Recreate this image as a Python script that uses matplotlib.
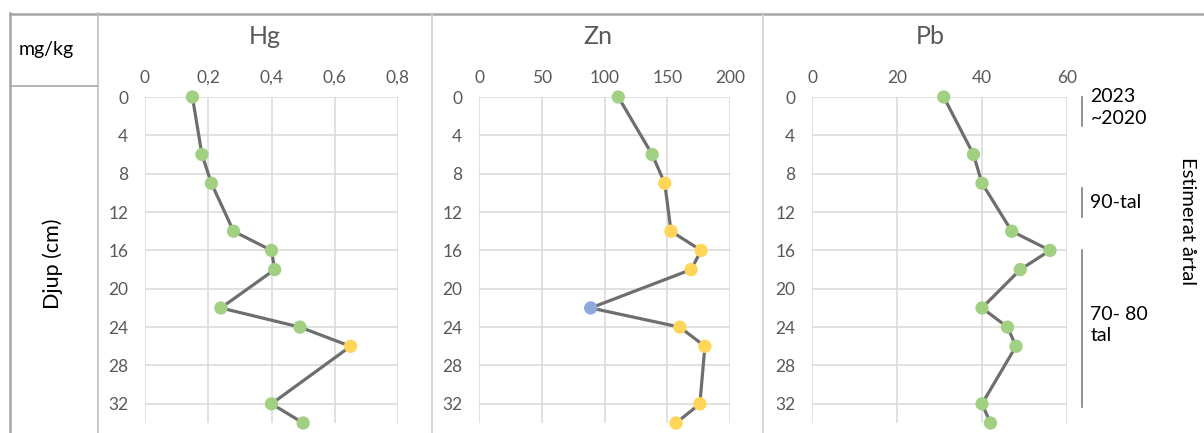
import matplotlib.pyplot as plt
from matplotlib.lines import Line2D

plt.rcParams['font.family'] = ['Lato', 'DejaVu Sans']

# djup (cm) för varje prov
depth = [0, 6, 9, 14, 16, 18, 22, 24, 26, 32, 34]

hg = [0.15, 0.18, 0.21, 0.28, 0.40, 0.41, 0.24, 0.49, 0.65, 0.40, 0.50]
zn = [111, 138, 148, 153, 177, 169, 89, 160, 180, 176, 157]
pb = [31, 38, 40, 47, 56, 49, 40, 46, 48, 40, 42]

# klass per punkt: g = grön, y = gul, b = blå
hg_class = ['g', 'g', 'g', 'g', 'g', 'g', 'g', 'g', 'y', 'g', 'g']
zn_class = ['g', 'g', 'y', 'y', 'y', 'y', 'b', 'y', 'y', 'y', 'y']
pb_class = ['g'] * 11

hg_ticks = [0, 0.2, 0.4, 0.6, 0.8]
hg_labels = ['0', '0,2', '0,4', '0,6', '0,8']
zn_ticks = [0, 50, 100, 150, 200]
pb_ticks = [0, 20, 40, 60]
depth_ticks = [0, 4, 8, 12, 16, 20, 24, 28, 32]

periods = [('2023\n~2020', 0, 3), ('90-tal', 9.5, 12.5), ('70- 80\ntal', 16, 32.3)]

colors = {'g': '#A2D083', 'y': '#FFD55A', 'b': '#8EA9DB'}
LINE = '#6E6E6E'
TXT = '#595959'
FRAME = '#A6A6A6'

W, H = 1204, 433
fig = plt.figure(figsize=(W / 100, H / 100), dpi=100)


def px_rect(x0, x1, y0, y1):
    return [x0 / W, 1 - y1 / H, (x1 - x0) / W, (y1 - y0) / H]


def panel(rect, vals, cls, ticks, labels, title, title_x):
    ax = fig.add_axes(rect)
    ax.plot(vals, depth, color=LINE, lw=2.3, zorder=2)
    ax.scatter(vals, depth, c=[colors[c] for c in cls], s=92, zorder=3,
               clip_on=False, linewidths=0)
    ax.set_xlim(ticks[0], ticks[-1])
    ax.set_ylim(34, 0)
    ax.set_xticks(ticks)
    ax.set_xticklabels(labels)
    ax.set_yticks(depth_ticks)
    ax.xaxis.tick_top()
    ax.tick_params(length=0, labelsize=12.5, labelcolor=TXT, pad=8)
    ax.tick_params(axis='y', pad=12)
    ax.grid(color='#D9D9D9', lw=1.1)
    ax.set_axisbelow(True)
    for s in ax.spines.values():
        s.set_visible(False)
    fig.text(title_x / W, 1 - 36 / H, title, ha='center', va='center',
             fontsize=18, color=TXT)
    return ax


panel(px_rect(145, 398, 97, 423), hg, hg_class, hg_ticks, hg_labels, 'Hg', 265)
panel(px_rect(479, 730, 97, 423), zn, zn_class, zn_ticks,
      [str(t) for t in zn_ticks], 'Zn', 598)
ax_pb = panel(px_rect(812, 1067, 97, 423), pb, pb_class, pb_ticks,
              [str(t) for t in pb_ticks], 'Pb', 930)

# perioder till höger om Pb
for label, d0, d1 in periods:
    ax_pb.plot([63.5, 63.5], [d0, d1], color='#7F7F7F', lw=1.2, clip_on=False)
    ax_pb.text(65.5, (d0 + d1) / 2 - (0.4 if '\n' in label else 0), label,
               ha='left', va='center', fontsize=14, color='black',
               linespacing=1.3)

fig.text(1187 / W, 1 - 221 / H, 'Estimerat årtal', rotation=-90,
         ha='center', va='center', fontsize=14.5, color='black')
fig.text(53 / W, 1 - 264 / H, 'Djup (cm)', rotation=90,
         ha='center', va='center', fontsize=15.5, color='black')
fig.text(19 / W, 1 - 50 / H, 'mg/kg', ha='left', va='center',
         fontsize=14, color='black')

# tabellram
def hline(y, x0, x1, c=FRAME, lw=1.8):
    fig.add_artist(Line2D([x0 / W, x1 / W], [1 - y / H, 1 - y / H],
                          color=c, lw=lw))


def vline(x, y0, y1, c=FRAME, lw=1.8):
    fig.add_artist(Line2D([x / W, x / W], [1 - y0 / H, 1 - y1 / H],
                          color=c, lw=lw))


hline(13.5, 10, W)
hline(86, 10, 98, lw=1.2)
vline(10, 13, H)
vline(98, 13, H, c='#BFBFBF', lw=1.2)
vline(432, 13, H, c='#D0D0D0', lw=1.2)
vline(763, 13, H, c='#D0D0D0', lw=1.2)

fig.savefig('out.png', dpi=100)
